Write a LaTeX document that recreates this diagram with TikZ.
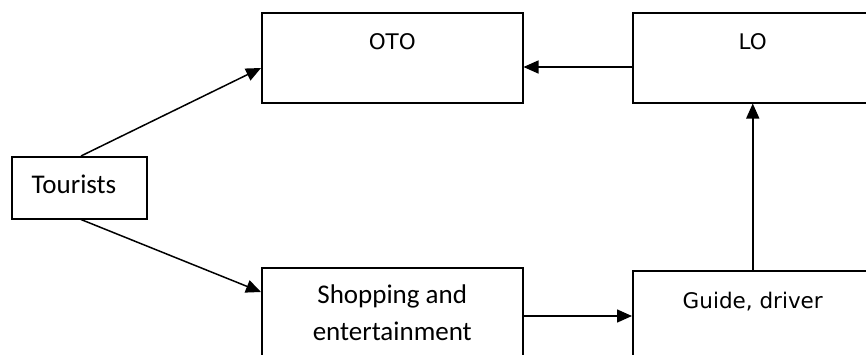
\documentclass[tikz,border=0pt]{standalone}
\usepackage{fontspec}
\setmainfont{Carlito}
\newfontfamily\dejavu{DejaVu Sans}
\usetikzlibrary{arrows.meta,calc}
\tikzset{
  boxnode/.style={draw=black, line width=1.5pt, inner sep=0pt, anchor=north west},
  lbl/.style={anchor=base, inner sep=0pt, font=\fontsize{27}{37}\selectfont, align=center},
  lbldv/.style={anchor=base, inner sep=0pt, font=\dejavu\fontsize{21.5}{30}\selectfont},
  conn/.style={line width=1.5pt, -{Triangle[length=15pt,width=13pt]}},
}
\begin{document}
\begin{tikzpicture}[x=1pt,y=-1pt]
\useasboundingbox (0,0) rectangle (866,354);
% boxes
\node[boxnode, minimum width=135pt, minimum height=62pt] (tour) at (11,156) {};
\node[boxnode, minimum width=261pt, minimum height=90pt] (oto) at (261,12) {};
\node[boxnode, minimum width=240pt, minimum height=90pt] (lo) at (632,12) {};
\node[boxnode, minimum width=261pt, minimum height=90pt] (shop) at (261,267) {};
\node[boxnode, minimum width=240pt, minimum height=90pt] (guide) at (632,270) {};
% labels
\node[lbl] (tourt) at (74,193) {Tourists};
\node[lbldv] (otot) at ($(oto.north)+(0,37)$) {OTO};
\node[lbldv] (lot) at ($(lo.north)+(0,37)$) {LO};
\node[lbl] (shopt1) at ($(shop.north)+(0,36)$) {Shopping and};
\node[lbl] (shopt2) at ($(shop.north)+(0,73)$) {entertainment};
\node[lbldv] (guidet) at ($(guide.north)+(0,38)$) {Guide, driver};
% connectors
\coordinate (ttop) at ($(tour.north west)+(70,0)$);
\coordinate (tbot) at ($(tour.south west)+(70,0)$);
\draw[conn] (ttop) -- ($(oto.north west)+(0,56)$);
\draw[conn] (tbot) -- ($(shop.north west)+(0,25)$);
\coordinate (lol) at ($(lo.north west)+(0,55)$);
\draw[conn] (lol) -- (oto.east |- lol);
\coordinate (gl) at ($(guide.north west)+(0,46)$);
\draw[conn] (shop.east |- gl) -- (gl);
\draw[conn] (guide.north) -- (lo.south);
\end{tikzpicture}
\end{document}
